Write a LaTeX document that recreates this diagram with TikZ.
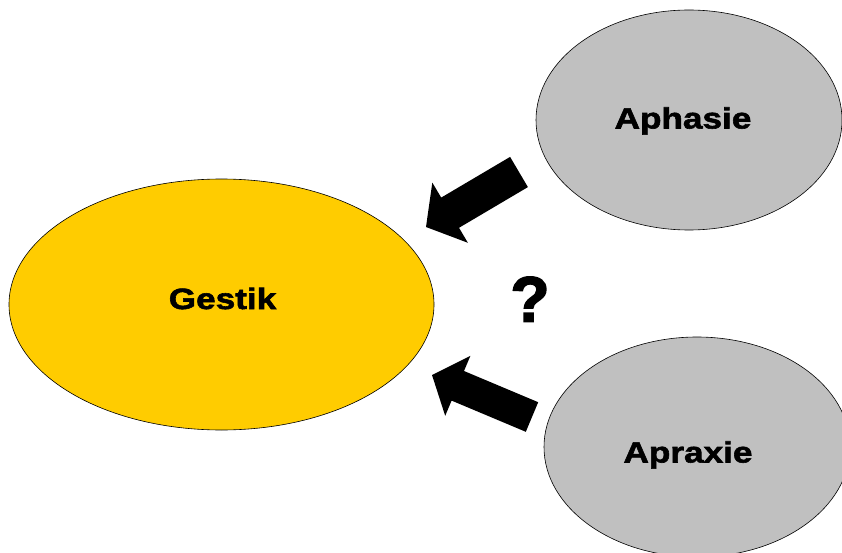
\documentclass[tikz,border=0pt]{standalone}
\usepackage{fontspec}
\newfontfamily\lblfont[FakeStretch=1.2,FakeBold=2]{Liberation Sans Bold}
\newfontfamily\qfont[FakeBold=2.5]{Liberation Sans Bold}
\usetikzlibrary{shapes.geometric}
\definecolor{gestikfill}{HTML}{FFCC00}
\definecolor{greyfill}{HTML}{C0C0C0}
\begin{document}
\begin{tikzpicture}[x=1pt,y=-1pt,
  blob/.style={ellipse,draw=black,line width=0.6pt,inner sep=0pt},
  lbl/.style={font=\lblfont\fontsize{29.3}{35}\selectfont,text height=21pt,text depth=0pt,inner sep=0pt},
  blockarrow/.style={fill=black,draw=none}]
\clip (0,0) rectangle (842,553);
\useasboundingbox (0,0) rectangle (842,553);
\node[blob,fill=gestikfill,minimum width=425pt,minimum height=251pt,
  label={[lbl,xshift=1pt,yshift=6pt]center:Gestik}] (gestik) at (221.5,304.5) {};
\node[blob,fill=greyfill,minimum width=306pt,minimum height=220pt,
  label={[lbl,xshift=-6pt,yshift=2pt]center:Aphasie}] (aphasie) at (689,120) {};
\node[blob,fill=greyfill,minimum width=306pt,minimum height=220pt,
  label={[lbl,xshift=-9pt,yshift=-5pt]center:Apraxie}] (apraxie) at (697,447) {};
\node[font=\qfont\fontsize{64}{70}\selectfont,inner sep=0pt,text height=46pt,text depth=0pt] (q) at (530,298.5) {?};
% upper block arrow (from Aphasie towards Gestik)
\fill[blockarrow] (527.9,187.1) -- (510.1,156.9) -- (441.2,197.6) -- (432.3,182.6)
  -- (426,227) -- (467.9,242.8) -- (459.0,227.8) -- cycle;
% lower block arrow (from Apraxie towards Gestik)
\fill[blockarrow] (538.2,402.2) -- (525.8,431.8) -- (451.6,400.6) -- (445.2,415.8)
  -- (432,375) -- (470.4,355.8) -- (464.0,371.0) -- cycle;
\end{tikzpicture}
\end{document}
